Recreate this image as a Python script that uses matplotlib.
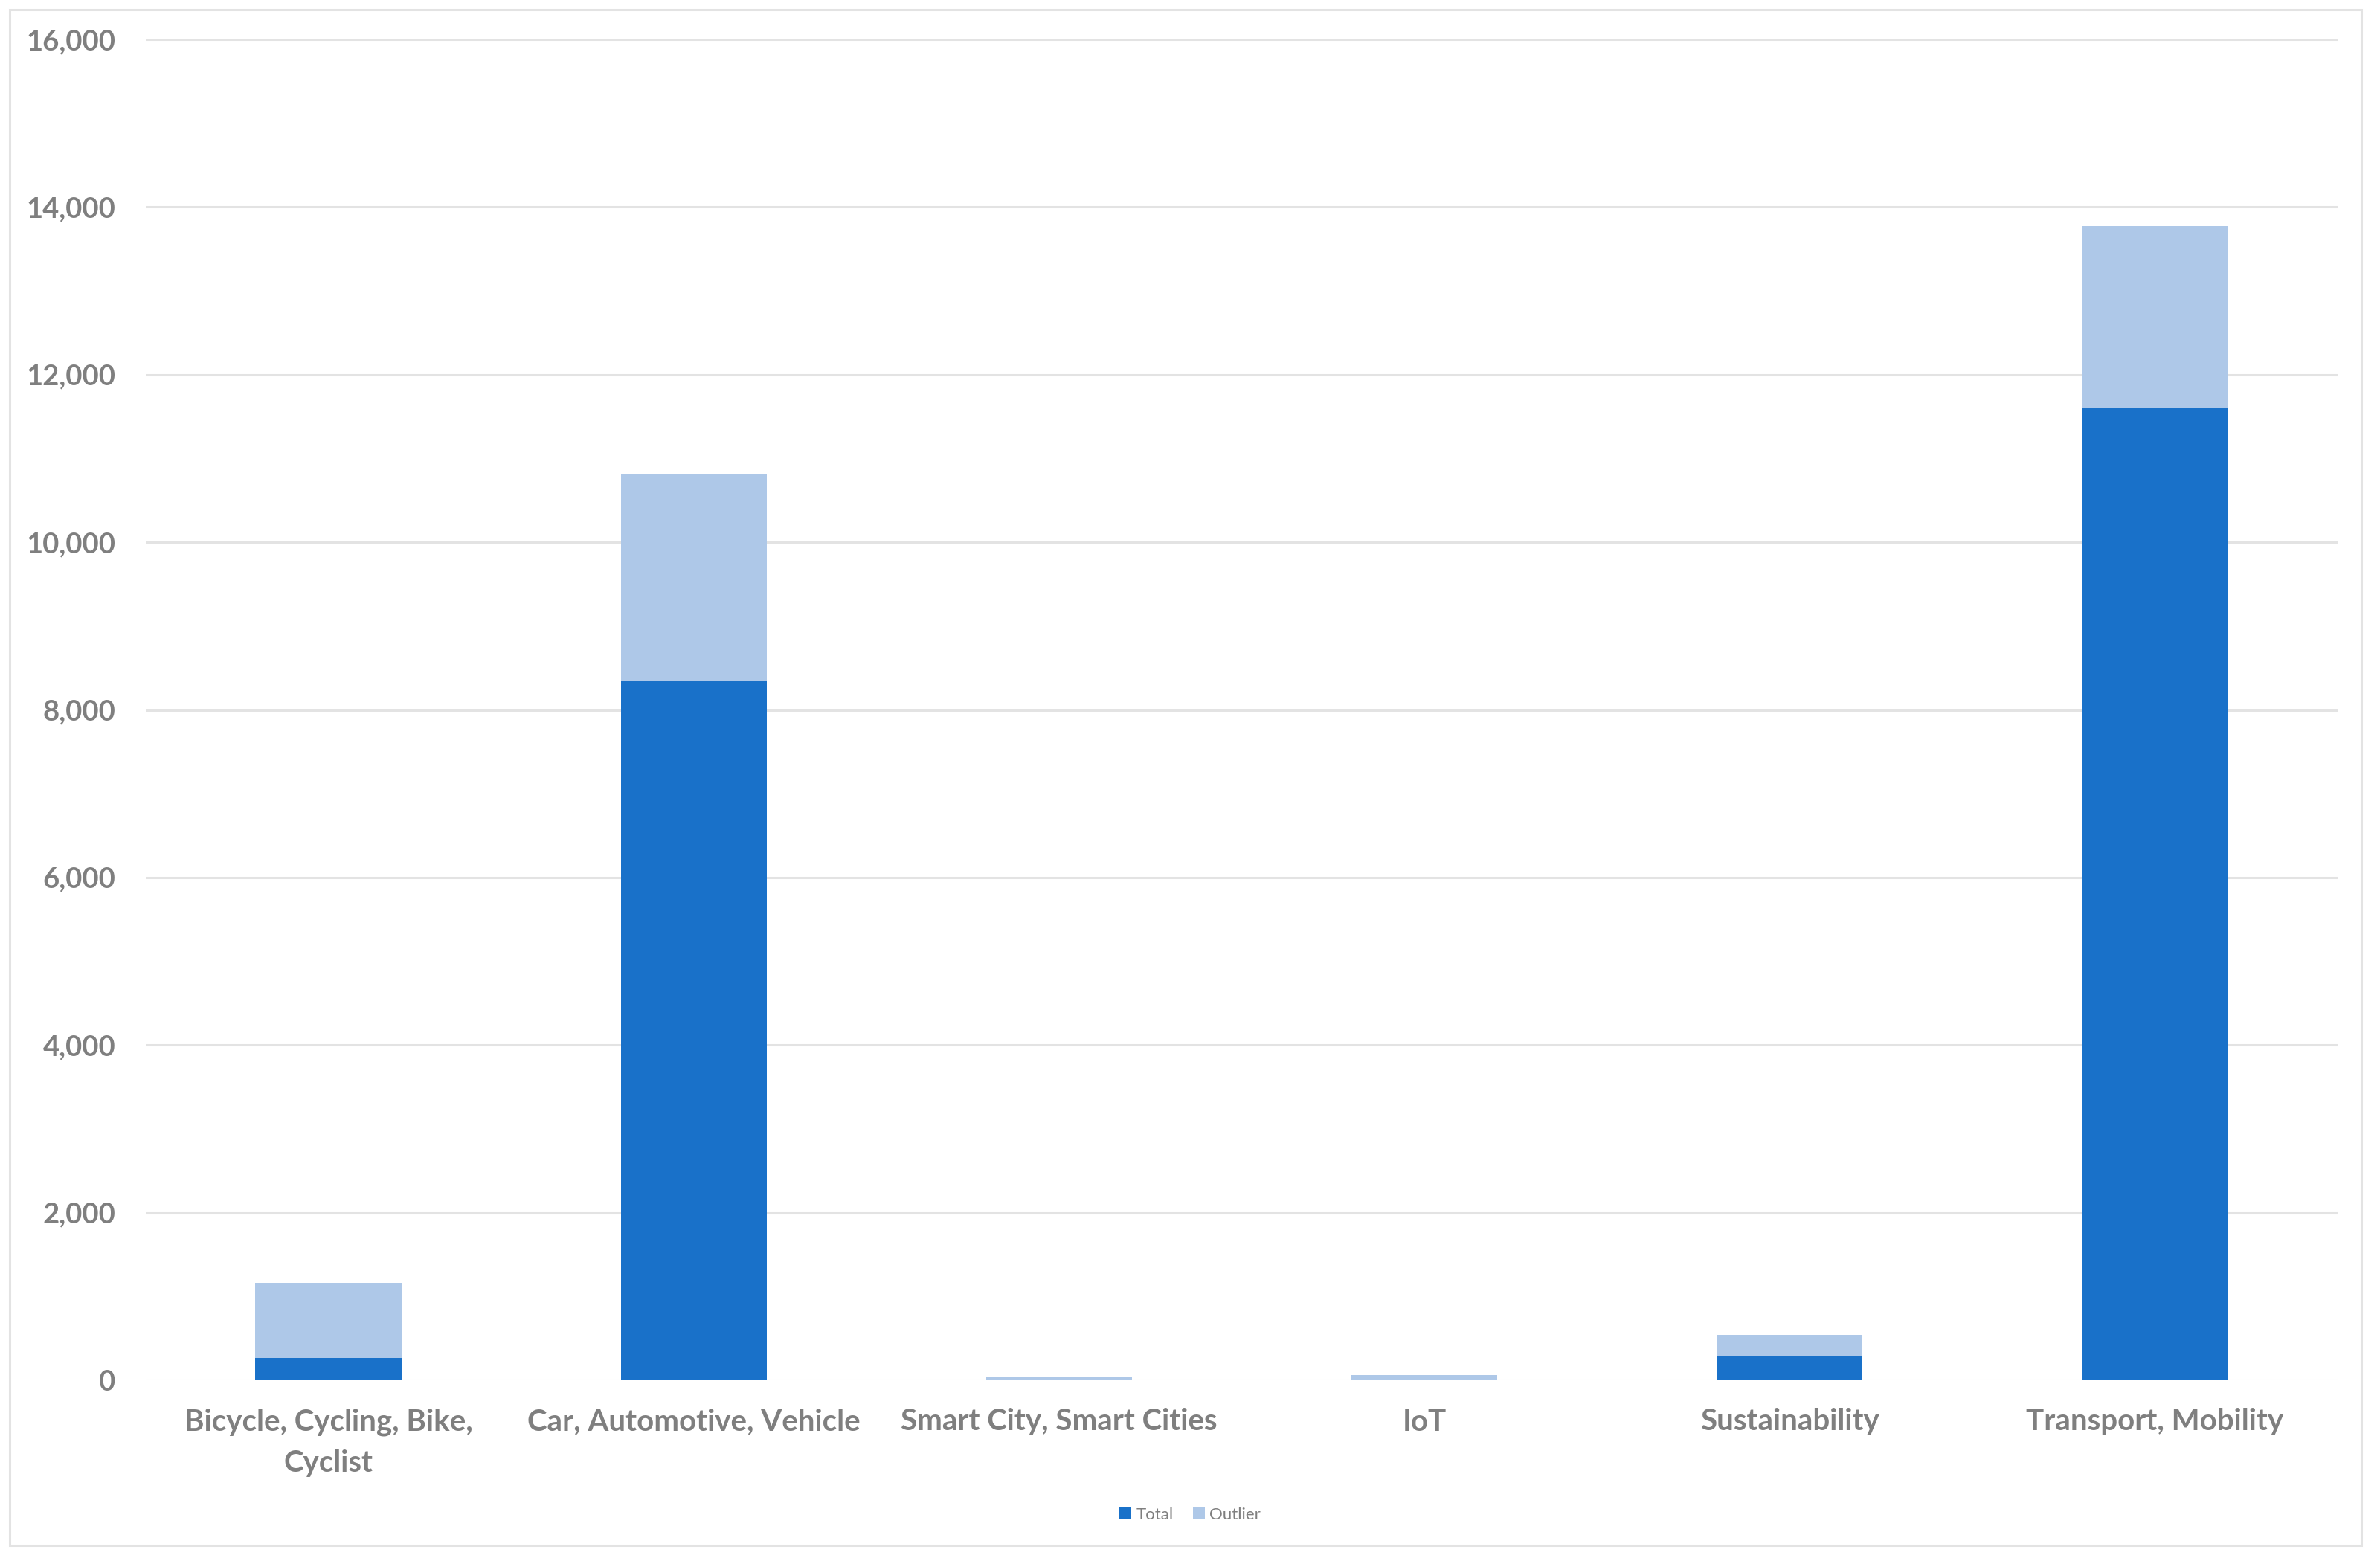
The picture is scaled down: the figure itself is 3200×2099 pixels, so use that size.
import matplotlib
matplotlib.use('Agg')
import matplotlib.pyplot as plt
from matplotlib.patches import Rectangle
from matplotlib.ticker import FuncFormatter
import numpy as np

categories = ['Bicycle, Cycling, Bike,\nCyclist', 'Car, Automotive, Vehicle',
              'Smart City, Smart Cities', 'IoT', 'Sustainability', 'Transport, Mobility']
total = [266, 8346, 0, 0, 293, 11600]
outlier = [896, 2461, 35, 62, 248, 2172]
yticks = [0, 2000, 4000, 6000, 8000, 10000, 12000, 14000, 16000]

dark = '#1971C9'
light = '#AEC8E8'
grey_txt = '#7F7F7F'
grid_c = '#E3E3E3'

plt.rcParams['font.family'] = ['Lato', 'DejaVu Sans']

fig = plt.figure(figsize=(32, 20.99), dpi=100)
ax = fig.add_axes([196/3200, 1 - 1856/2099, (3143-196)/3200, (1856-53)/2099])

x = np.arange(len(categories))
ax.bar(x, total, width=0.4, color=dark, label='Total', zorder=3)
ax.bar(x, outlier, width=0.4, bottom=total, color=light, label='Outlier', zorder=3)

ax.set_xlim(-0.5, len(categories) - 0.5)
ax.set_ylim(0, 16000)
ax.set_yticks(yticks)
ax.yaxis.set_major_formatter(FuncFormatter(lambda v, p: f'{int(v):,}'))
ax.set_xticks(x)
ax.set_xticklabels(categories, linespacing=1.6)
ax.grid(axis='y', color=grid_c, linewidth=2.2, zorder=0)
ax.set_axisbelow(True)
for s in ax.spines.values():
    s.set_visible(False)
ax.tick_params(axis='both', length=0, colors=grey_txt)
ax.tick_params(axis='y', pad=29, labelsize=27.5)
ax.tick_params(axis='x', pad=27, labelsize=29)
for lbl in ax.get_xticklabels() + ax.get_yticklabels():
    lbl.set_fontweight('bold')

leg = ax.legend(loc='center', bbox_to_anchor=(0.5, 1 - 2037/2099), bbox_transform=fig.transFigure,
                ncol=2, frameon=False, fontsize=16, handlelength=0.7, handleheight=0.7,
                handletextpad=0.3, columnspacing=1.2)
for t in leg.get_texts():
    t.set_color(grey_txt)

# chart border
fig.patches.append(Rectangle((13/3200, 1 - 2078/2099), (3175-13)/3200, (2078-13)/2099,
                             transform=fig.transFigure, fill=False,
                             edgecolor=grid_c, linewidth=2.2))

fig.savefig('out.png', dpi=100, facecolor='white')
